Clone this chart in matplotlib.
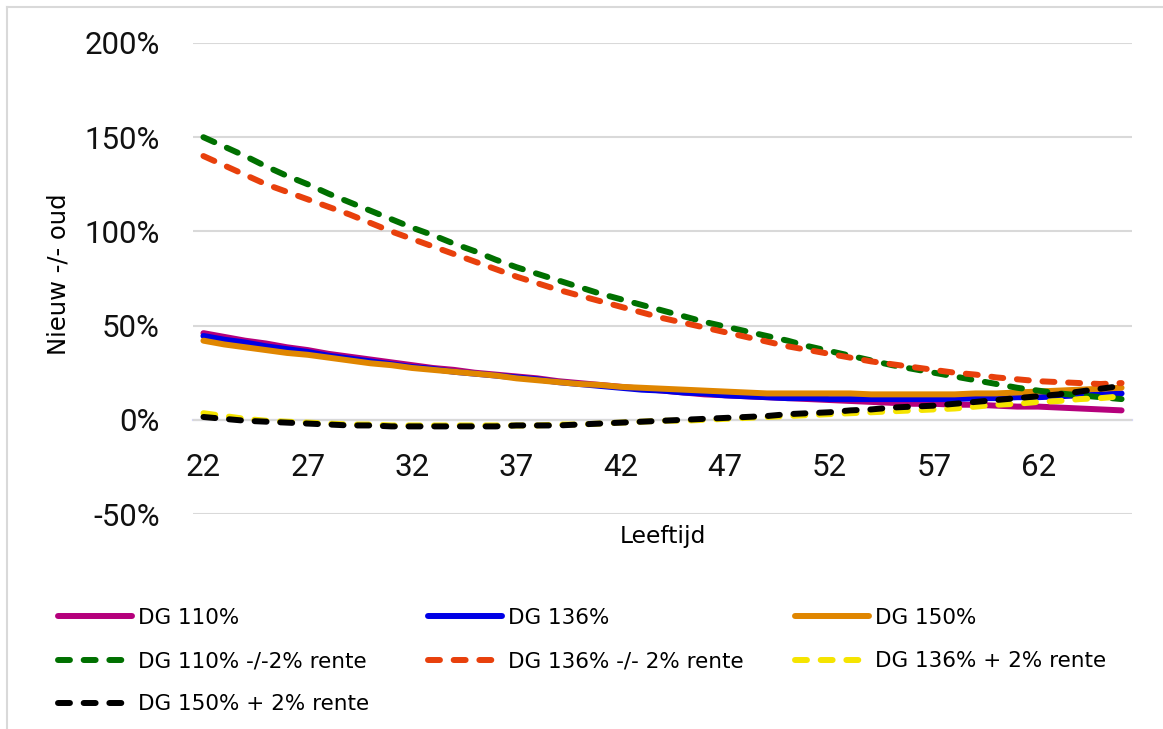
import matplotlib.pyplot as plt
from matplotlib.lines import Line2D
from matplotlib.ticker import FuncFormatter

# leeftijden 22 t/m 66
ages = list(range(22, 67))

dg110 = [46, 44, 42, 40.5, 38.5, 37, 35, 33.5, 32, 30.5, 29, 27.5, 26.5, 25, 24,
         23, 22, 20.5, 19.5, 18.5, 17.5, 16.5, 15.5, 14.5, 13.5, 13, 12.5, 12, 11.5,
         11, 10.5, 10, 9.5, 9, 8.5, 8.5, 8, 8, 7.5, 7, 7, 6.5, 6, 5.5, 5]
dg136 = [44.5, 42.5, 41, 39, 37.5, 36, 34, 32.5, 31, 29.5, 28, 27, 25.5, 24.5, 23.5,
         22.5, 21.5, 20, 19, 18, 17, 16, 15.5, 14.5, 14, 13, 12.5, 12, 11.5, 11.5,
         11, 11, 11, 11, 11, 11, 11, 11.5, 11.5, 12, 12, 12.5, 13, 13.5, 14]
dg150 = [42, 40, 38.5, 37, 35.5, 34.5, 33, 31.5, 30, 29, 27.5, 26.5, 25.5, 24.5, 23.5,
         22, 21, 20, 19, 18.5, 17.5, 17, 16.5, 16, 15.5, 15, 14.5, 14, 14, 14,
         14, 14, 13.5, 13.5, 13.5, 13.5, 13.5, 14, 14, 14.5, 15, 15.5, 16, 16.5, 17]
dg110_min2 = [150, 145, 140, 134.5, 129.5, 125, 120, 115.5, 111, 106.5, 102, 98, 93.5,
              89.5, 85, 81, 77.5, 74, 70.5, 67, 64, 61, 58, 55, 52, 49.5, 47, 44.5,
              42, 39, 36.5, 34, 31.5, 29, 27, 25, 23, 21, 19, 17, 15.5, 14, 13, 12, 11]
dg136_min2 = [140, 135, 130, 125, 121, 117, 113, 109, 104.5, 100, 96, 92, 88, 84, 80,
              76, 72.5, 69, 66, 63, 60, 57, 54, 51.5, 49, 46.5, 44, 41.5, 39, 37,
              35, 33, 31, 29.5, 28, 26.5, 25, 24, 22.5, 21.5, 20.5, 20, 19.5, 19, 19.5]
dg136_plus2 = [3.5, 2, 0.5, -0.5, -1, -1.5, -2, -2.5, -2.5, -3, -3, -3, -3, -3, -3,
               -3, -3, -2.5, -2.5, -2, -1.5, -1, -0.5, -0.5, 0, 0.5, 1, 1.5, 2, 2.5,
               3, 3.5, 4, 4.5, 5, 5.5, 6, 7, 8, 8.5, 9.5, 10, 11, 11.5, 12.5]
dg150_plus2 = [1.5, 0.5, -0.5, -1, -1.5, -2, -2.5, -3, -3, -3.5, -3.5, -3.5, -3.5, -3.5,
               -3.5, -3, -3, -3, -2.5, -2, -1.5, -1, -0.5, 0, 0.5, 1, 1.5, 2, 3, 3.5,
               4, 5, 5.5, 6.5, 7, 7.5, 8.5, 9.5, 10.5, 11.5, 12.5, 13.5, 15, 16.5, 18]

labels = ["DG 110%", "DG 136%", "DG 150%", "DG 110% -/-2% rente",
          "DG 136% -/- 2% rente", "DG 136% + 2% rente", "DG 150% + 2% rente"]
colors = ["#b5007c", "#0000e6", "#e08600", "#007000", "#e8400c", "#f5e400", "#000000"]
series = [dg110, dg136, dg150, dg110_min2, dg136_min2, dg136_plus2, dg150_plus2]
dashed = [False, False, False, True, True, True, True]

W, H = 1163, 729
fig = plt.figure(figsize=(W / 100, H / 100), dpi=100)
ax = fig.add_axes([193 / W, 1 - 514 / H, (1132 - 193) / W, (514 - 43) / H])

handles = []
for vals, lab, col, dash in zip(series, labels, colors, dashed):
    if dash:
        ln, = ax.plot(ages, vals, color=col, lw=4.3, ls=(0, (2.0, 2.3)),
                      dash_capstyle="round", label=lab)
    else:
        ln, = ax.plot(ages, vals, color=col, lw=4.3, solid_capstyle="round", label=lab)
    handles.append(ln)

ax.set_xlim(21.5, 66.5)
ax.set_ylim(-50, 200)
ax.set_yticks([-50, 0, 50, 100, 150, 200])
ax.yaxis.set_major_formatter(FuncFormatter(lambda v, p: f"{v:.0f}%"))
ax.set_xticks(list(range(22, 66, 5)))
ax.grid(axis="y", color="#d9d9d9", lw=1.5)
ax.set_axisbelow(True)

for s in ["top", "right", "left"]:
    ax.spines[s].set_visible(False)
ax.spines["bottom"].set_position(("data", 0))
ax.spines["bottom"].set_color("#d6d6f5")
ax.spines["bottom"].set_linewidth(1.6)
ax.spines["bottom"].set_zorder(0.5)

ax.tick_params(axis="both", length=0, labelsize=22.5, labelcolor="#111111")
ax.tick_params(axis="y", pad=24)
ax.tick_params(axis="x", pad=24)
for t in ax.get_xticklabels() + ax.get_yticklabels():
    t.set_fontfamily("Roboto")

fig.text(663 / W, 1 - 537 / H, "Leeftijd", ha="center", va="center", fontsize=16.8)
fig.text(58 / W, 1 - 274 / H, "Nieuw -/- oud", ha="center", va="center",
         rotation=90, fontsize=17.5)

# legenda: drie kolommen met vaste breedte, rij voor rij gevuld
columns = [[0, 3, 6], [1, 4], [2, 5]]
col_x = [58, 428, 795]
for idx, x in zip(columns, col_x):
    leg = fig.legend([handles[i] for i in idx], [labels[i] for i in idx],
                     loc="upper left", bbox_to_anchor=(x / W, 1 - 608 / H),
                     frameon=False, fontsize=15.5, handlelength=3.45,
                     handletextpad=0.28, labelspacing=1.08, borderpad=0,
                     borderaxespad=0)

# kader rond de grafiek
fig.add_artist(Line2D([7 / W, 1], [1 - 7 / H, 1 - 7 / H], color="#d9d9d9", lw=1.5))
fig.add_artist(Line2D([7 / W, 7 / W], [0, 1 - 7 / H], color="#d9d9d9", lw=1.5))

fig.savefig("out.png", dpi=100)
